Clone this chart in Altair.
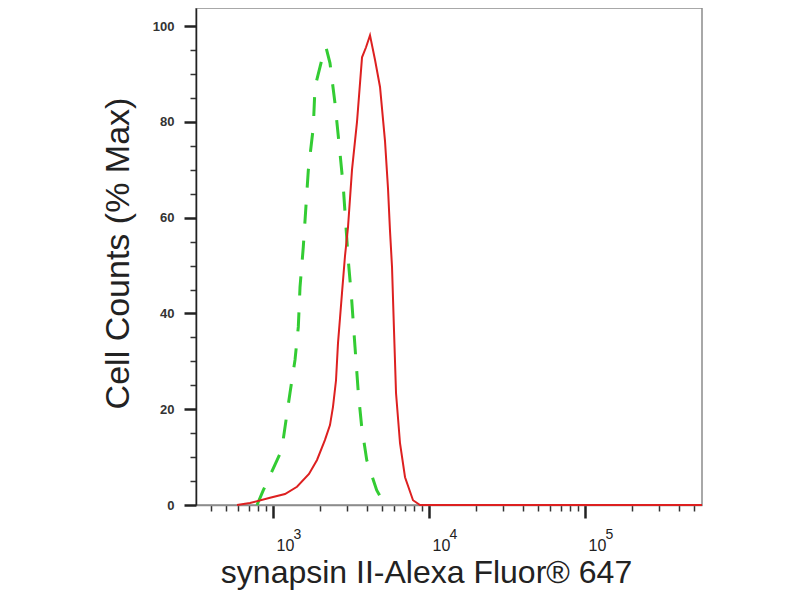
import altair as alt
import pandas as pd

# stained sample (red, solid)
red_x = [588, 712, 957, 1194, 1425, 1701, 1915, 2154, 2319, 2424, 2534, 2610,
         2688, 2769, 2894, 3025, 3209, 3455, 3721, 3948, 4186, 4506, 4853,
         5224, 5462, 5620, 5793, 5965, 6145, 6518, 7020, 7897, 8756, 10150,
         100000, 562000]
red_y = [0, 0.4, 1.5, 2.3, 3.8, 6.5, 9.4, 13.6, 16.7, 20.5, 26, 33.8,
         39, 44.3, 52, 58, 70, 80, 93.5, 95.6, 98.1, 93, 87.3,
         76, 66, 57.4, 49.7, 36.5, 23.4, 12.9, 5.8, 1, 0, 0,
         0, 0]

# isotype control (green, dashed)
green_x = [790, 867, 1137, 1285, 1384, 1453, 1490, 1564, 1684, 1813, 1859,
           2052, 2186, 2319, 2497, 2688, 2822, 2938, 3038, 3195, 3355, 3523,
           3704, 3988, 4620, 5224]
green_y = [0, 3.1, 11.5, 23.4, 30.3, 37.2, 45.5, 53.9, 69.9, 78.9, 87.3,
           92.9, 95.6, 92.3, 83.9, 73.5, 66.4, 58, 51.1, 42.8, 33, 23.4,
           16.3, 9.4, 3.1, 0]

x_major = [1000, 10000, 100000]
x_base_labels = ['10', '10', '10']
x_exp_labels = ['3', '4', '5']
x_minor = [400, 500, 600, 700, 800, 900,
           2000, 3000, 4000, 5000, 6000, 7000, 8000, 9000,
           20000, 30000, 40000, 50000, 60000, 70000, 80000, 90000,
           200000, 300000, 400000, 500000]
y_major = [0, 20, 40, 60, 80, 100]
y_minor = [5, 10, 15, 25, 30, 35, 45, 50, 55, 65, 70, 75, 85, 90, 95]

red = pd.DataFrame({'x': red_x, 'y': red_y})
green = pd.DataFrame({'x': green_x, 'y': green_y})

FONT = 'Liberation Sans'
xscale = alt.Scale(type='log', domain=[321, 562000], nice=False)
yscale = alt.Scale(domain=[0, 103.8], nice=False, zero=False)


def label_expr(values, labels):
    expr = ' : '.join("datum.value == {} ? '{}'".format(v, t)
                      for v, t in zip(values[:-1], labels[:-1]))
    return expr + " : '{}'".format(labels[-1])


x_axis = alt.Axis(orient='bottom', values=x_major,
                  labelExpr=label_expr(x_major, x_base_labels),
                  grid=False, tickSize=13, tickWidth=2.5, tickColor='#222',
                  domainColor='#8c8c8c', domainWidth=1.5,
                  labelFont=FONT, labelFontSize=16, labelColor='#222',
                  labelAlign='left', labelOffset=3, labelBaseline='alphabetic',
                  labelPadding=32, labelFlush=False,
                  title='synapsin II-Alexa Fluor® 647', titleFont=FONT,
                  titleFontSize=32, titleFontWeight='normal', titleColor='#222',
                  titleX=230, titleY=77, titleAlign='center',
                  titleBaseline='alphabetic')
y_axis = alt.Axis(orient='left', values=y_major, grid=False, tickSize=12,
                  tickWidth=2.5, tickColor='#222', domainColor='#222',
                  domainWidth=1.5, labelFont=FONT, labelFontSize=13,
                  labelFontWeight='bold', labelColor='#333', labelPadding=10,
                  title='Cell Counts (% Max)', titleFont=FONT,
                  titleFontSize=34, titleFontWeight='normal', titleColor='#222',
                  titleX=-68, titleY=245, titleAlign='center',
                  titleBaseline='alphabetic', titleAngle=270)

x_minor_axis = alt.Axis(orient='bottom', values=x_minor, grid=False,
                        labels=False, domain=False, tickSize=6,
                        tickWidth=1.5, tickColor='#333', title='')
y_minor_axis = alt.Axis(orient='left', values=y_minor, grid=False,
                        labels=False, domain=False, tickSize=6,
                        tickWidth=1.5, tickColor='#333', title='')
# exponents of the decade labels, drawn raised and smaller
x_exp_axis = alt.Axis(orient='bottom', values=x_major,
                      labelExpr=label_expr(x_major, x_exp_labels),
                      grid=False, domain=False, ticks=False, tickSize=0,
                      labelFont=FONT, labelFontSize=14, labelColor='#222',
                      labelAlign='left', labelOffset=20,
                      labelBaseline='alphabetic', labelPadding=33,
                      labelFlush=False, title='')

minor = alt.Chart(red).mark_line(strokeOpacity=0).encode(
    x=alt.X('x:Q', scale=xscale, axis=x_minor_axis),
    y=alt.Y('y:Q', scale=yscale, axis=y_minor_axis))

exps = alt.Chart(red).mark_line(strokeOpacity=0).encode(
    x=alt.X('x:Q', scale=xscale, axis=x_exp_axis),
    y=alt.Y('y:Q', scale=yscale, axis=None))

red_line = alt.Chart(red).mark_line(color='#dd2020', strokeWidth=2).encode(
    x=alt.X('x:Q', scale=xscale, axis=x_axis),
    y=alt.Y('y:Q', scale=yscale, axis=y_axis))

green_line = alt.Chart(green).mark_line(
    color='#33cc33', strokeWidth=3, strokeDash=[19, 17]).encode(
    x=alt.X('x:Q', scale=xscale, axis=None),
    y=alt.Y('y:Q', scale=yscale, axis=None))

chart = alt.layer(minor, exps, green_line, red_line).resolve_axis(
    x='independent', y='independent'
).properties(
    width=506, height=497,
    autosize=alt.AutoSizeParams(type='none'),
    padding={'left': 188, 'top': 0, 'right': 80, 'bottom': 85},
    background='white'
).configure_view(stroke='#8c8c8c', strokeWidth=1.5)

chart.save('out.html', embed_options={'renderer': 'svg', 'actions': False})
